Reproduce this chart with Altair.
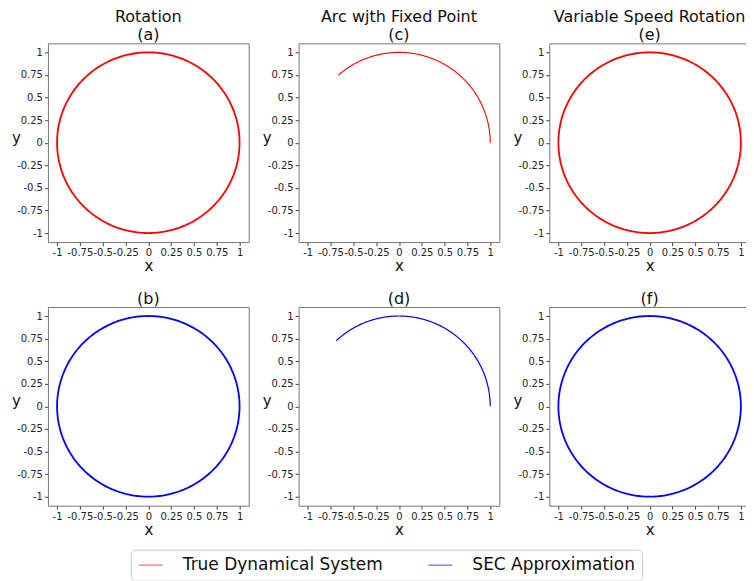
import altair as alt
import numpy as np
import pandas as pd

# ---- data ----
panel_ids = ["a", "c", "e", "b", "d", "f"]
panel_titles = [["Rotation", "(a)"], ["Arc wjth Fixed Point", "(c)"], ["Variable Speed Rotation", "(e)"],
                ["(b)"], ["(d)"], ["(f)"]]
panel_series = ["True Dynamical System", "True Dynamical System", "True Dynamical System",
                "SEC Approximation", "SEC Approximation", "SEC Approximation"]
# trajectories lie on the unit circle: start / end angle (degrees) of each traced path
start_deg = [0, 0, 0, 0, 0, 0]
end_deg = [360, 131.6, 360, 360, 133.4, 360]
radius = [1.0, 1.0, 1.0, 1.0, 1.0, 1.0]
line_widths = [1.8, 1.1, 1.8, 1.8, 1.2, 1.8]

series_names = ["True Dynamical System", "SEC Approximation"]
series_colors = ["#ff0000", "#0000ff"]
tick_values = [-1, -0.75, -0.5, -0.25, 0, 0.25, 0.5, 0.75, 1]
axis_domain = [-1.1, 1.1]

FONT = "DejaVu Sans"


def panel(k):
    t = np.radians(np.linspace(start_deg[k], end_deg[k], 361))
    df = pd.DataFrame({
        "x": radius[k] * np.cos(t),
        "y": radius[k] * np.sin(t),
        "i": np.arange(len(t)),
        "series": panel_series[k],
    })
    common = dict(labelExpr="'' + datum.value", values=tick_values, grid=False, domain=False,
                  tickSize=3.5, tickColor="#444", labelFontSize=10, labelFont=FONT, labelColor="#222",
                  labelOverlap=False, labelFlush=False, labelPadding=2,
                  titleFont=FONT, titleFontSize=15, titleFontWeight="normal", titleColor="#111")
    return alt.Chart(df).mark_line(strokeWidth=line_widths[k]).encode(
        x=alt.X("x:Q", scale=alt.Scale(domain=axis_domain, nice=False, zero=False),
                axis=alt.Axis(title="x", titlePadding=1, **common)),
        y=alt.Y("y:Q", scale=alt.Scale(domain=axis_domain, nice=False, zero=False),
                axis=alt.Axis(title="y", titleAngle=0, titleX=-32, titleY=94, titleAlign="center",
                              titleBaseline="middle", **common)),
        order="i:Q",
        color=alt.Color("series:N", scale=alt.Scale(domain=series_names, range=series_colors),
                        legend=alt.Legend(title=None, orient="none", legendX=83, legendY=507,
                                          direction="horizontal", symbolType="stroke",
                                          symbolSize=576, symbolStrokeWidth=1.2, symbolOpacity=0.6,
                                          clipHeight=17,
                                          labelFontSize=17, labelFont=FONT, labelColor="#111",
                                          labelLimit=400, labelOffset=19, columnPadding=44, padding=7,
                                          strokeColor="#cccccc", cornerRadius=4, fillColor="white")),
    ).properties(
        width=201, height=199,
        title=alt.TitleParams(text=panel_titles[k], fontSize=16, font=FONT, fontWeight="normal",
                              color="#111", lineHeight=18, offset=0, anchor="middle"),
    )


panels = [panel(k) for k in range(6)]
chart = alt.concat(*panels, columns=3, spacing=alt.RowColnumber(row=65, column=50),
                   bounds="flush").resolve_scale(color="shared").resolve_legend(color="shared").configure_view(
    stroke="#777", strokeWidth=1
).properties(padding={"left": 3, "top": 0, "right": -5, "bottom": 0}, background="white")

chart.save("out.html", embed_options={"renderer": "svg", "actions": False})
